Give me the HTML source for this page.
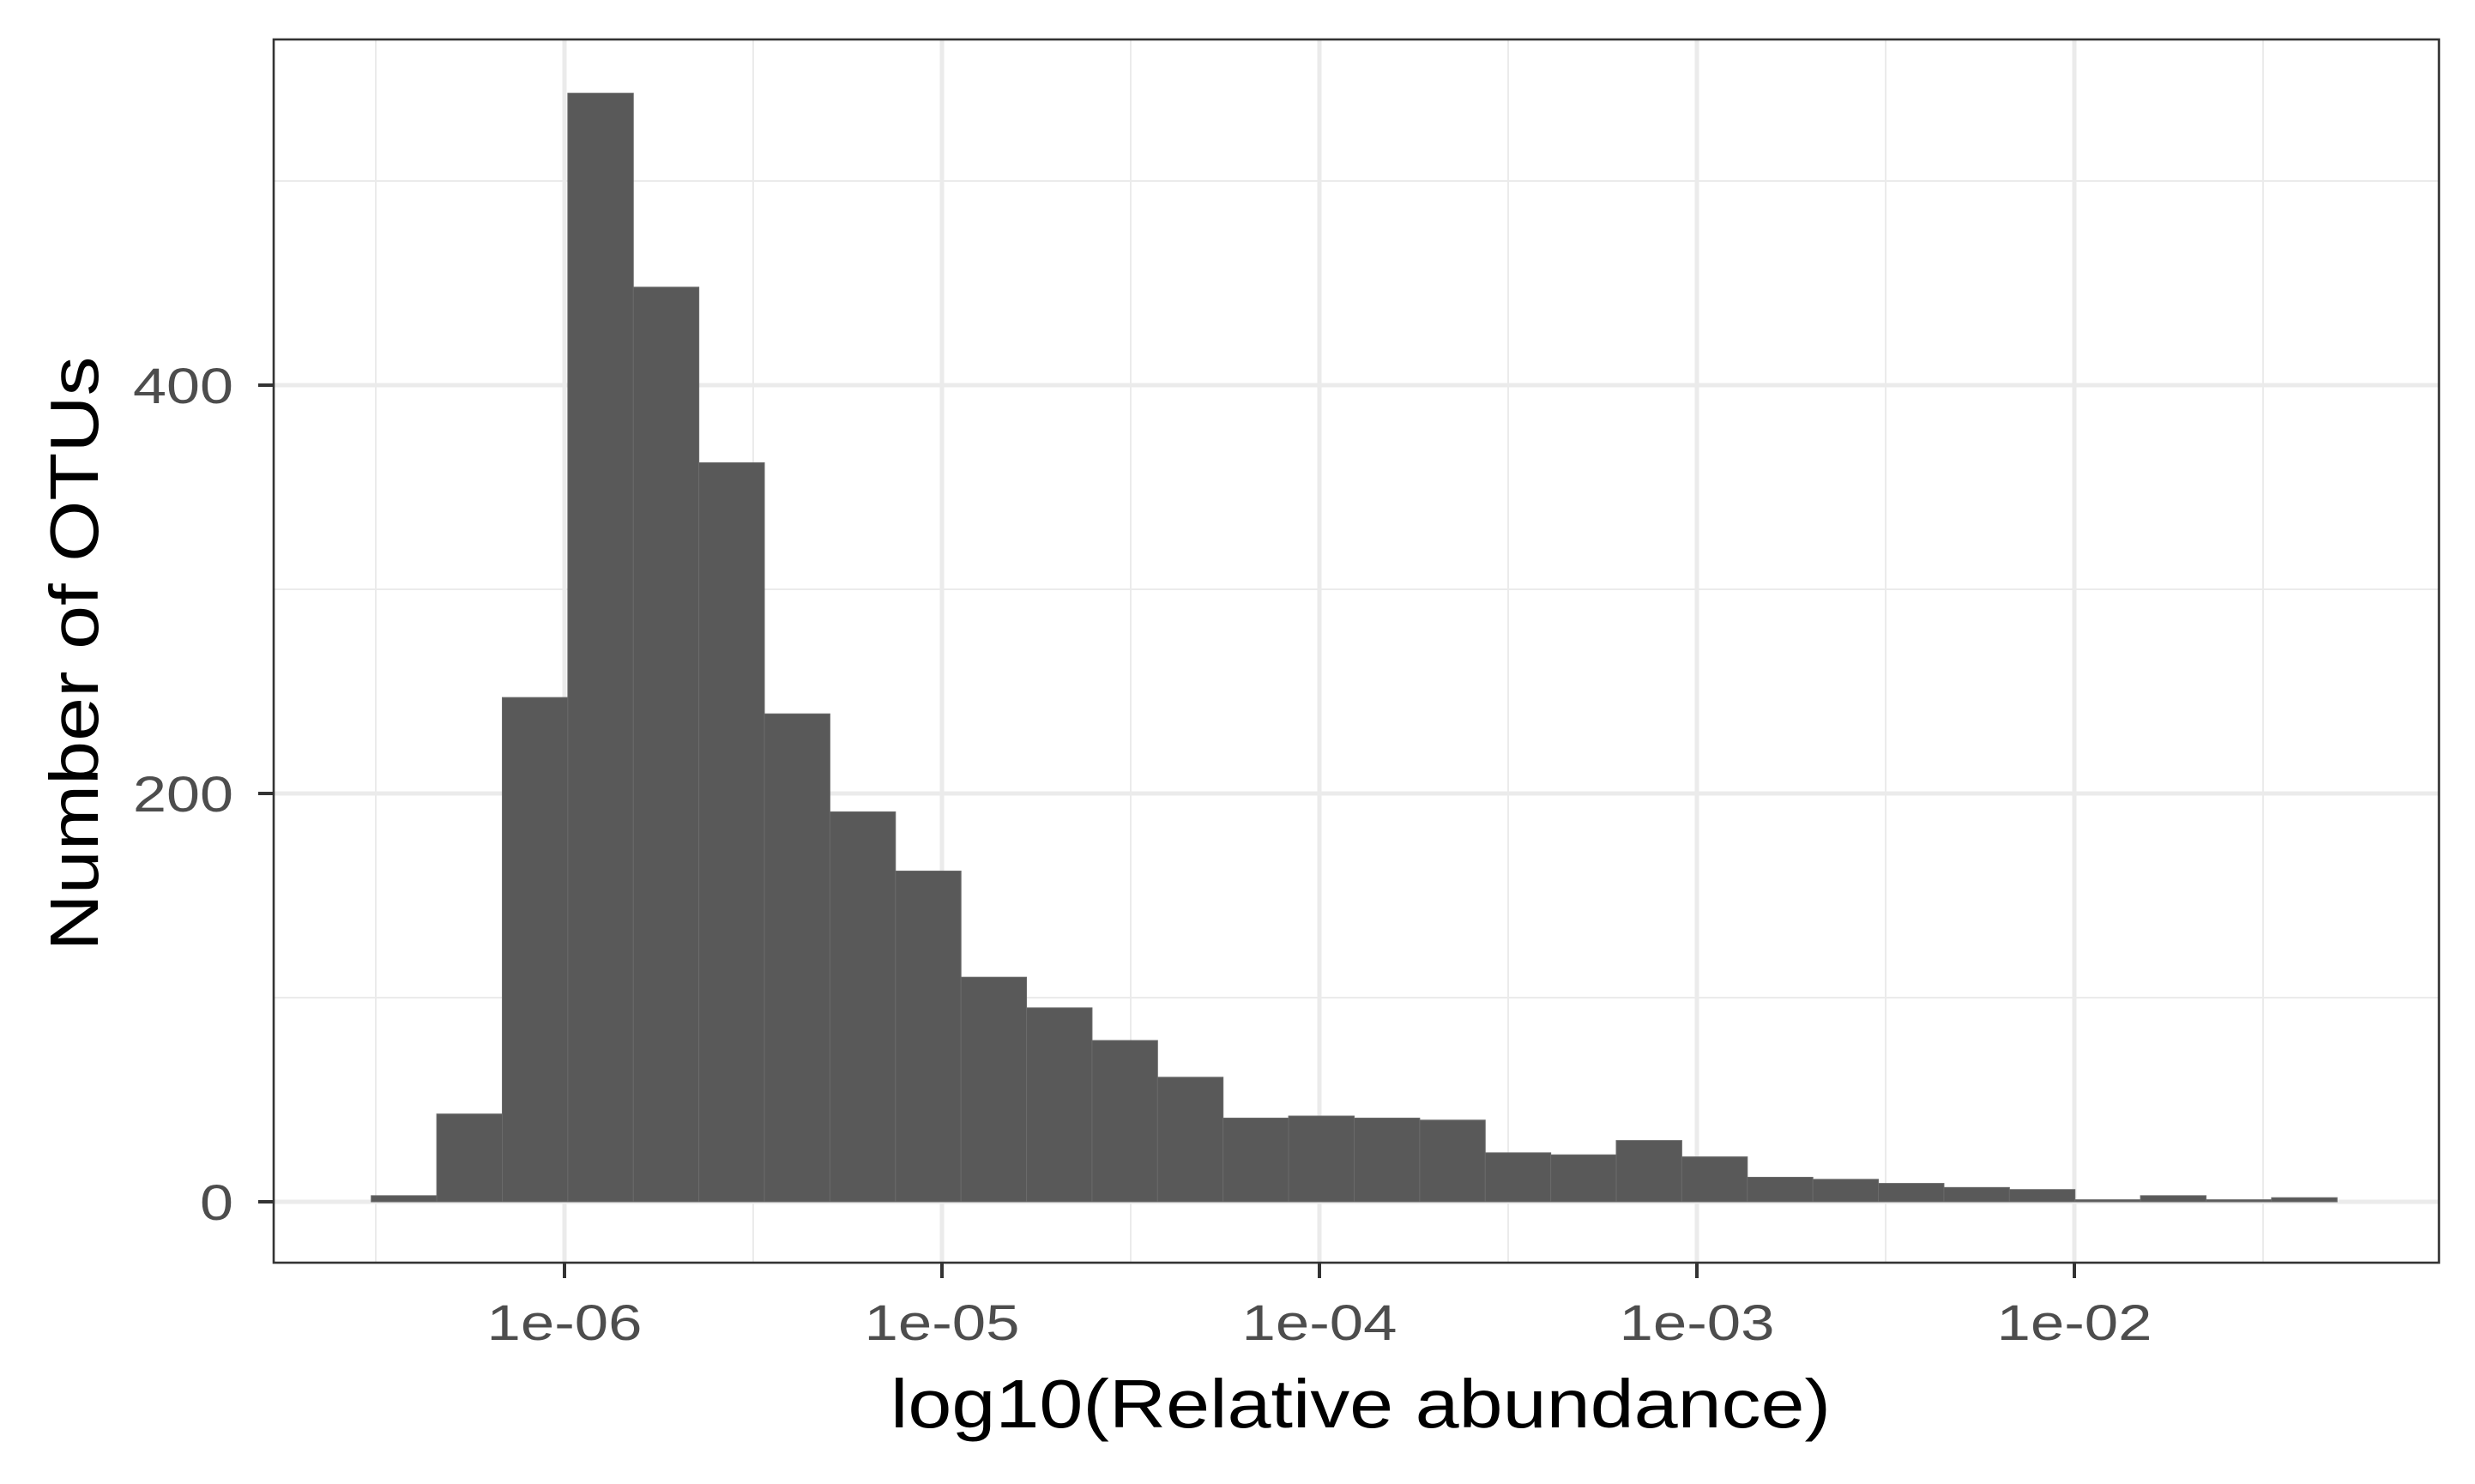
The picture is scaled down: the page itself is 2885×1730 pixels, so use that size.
<!DOCTYPE html>
<html><head><meta charset="utf-8"><style>
html,body{margin:0;padding:0;background:#fff;}
svg{display:block;font-family:"Liberation Sans",Arial,sans-serif;}
</style></head><body>
<svg id="chart" width="2885" height="1730" viewBox="0 0 2885 1730" xmlns="http://www.w3.org/2000/svg">
<rect x="0" y="0" width="2885" height="1730" fill="#fff"/>
<g id="grid"></g>
<g id="bars"></g>
<rect x="319" y="46" width="2524" height="1426" fill="none" stroke="#333" stroke-width="2.6"/>
<g id="axes"></g>
<text x="1586" y="1664" text-anchor="middle" font-size="80" textLength="1096" lengthAdjust="spacingAndGlyphs" fill="#000">log10(Relative abundance)</text>
<text x="0" y="0" transform="translate(114,762) rotate(-90)" text-anchor="middle" font-size="80" textLength="693" lengthAdjust="spacingAndGlyphs" fill="#000">Number of OTUs</text>
</svg>
<script>
const counts = [3,43,247,543,448,362,239,191,162,110,95,79,61,41,42,41,40,24,23,30,22,12,11,9,7,6,1,3,1,2];
const binStart = -6.512;
const binWidth = 0.1736;
const xTicks = [-6,-5,-4,-3,-2];
const xTickLabels = ["1e-06","1e-05","1e-04","1e-03","1e-02"];
const yTicks = [0,200,400];
const yTickLabels = ["0","200","400"];
const yMinor = [100,300,500];

const NS="http://www.w3.org/2000/svg";
const L=319,R=2843,T=46,B=1472;
function xs(v){return 658+(v+6)*440;}
function ys(v){return 1401-v*2.38;}
function mk(tag,attrs,parent){const e=document.createElementNS(NS,tag);for(const k in attrs)e.setAttribute(k,attrs[k]);parent.appendChild(e);return e;}
const grid=document.getElementById('grid'),bars=document.getElementById('bars'),axes=document.getElementById('axes');
yMinor.forEach(v=>{const l=mk('line',{x1:L,x2:R,y1:ys(v),y2:ys(v),stroke:'#ebebeb','stroke-width':2},grid);

});
for(let d=-6.5;d<=-1.5;d+=1){const l=mk('line',{x1:xs(d),x2:xs(d),y1:T,y2:B,stroke:'#ebebeb','stroke-width':2},grid);

}
yTicks.forEach((v,i)=>{const l=mk('line',{x1:L,x2:R,y1:ys(v),y2:ys(v),stroke:'#ebebeb','stroke-width':5},grid);


const t=mk('line',{x1:L-18,x2:L,y1:ys(v),y2:ys(v),stroke:'#333','stroke-width':4},axes);


const tx=mk('text',{x:272,y:ys(v)+21,'text-anchor':'end','font-size':58,fill:'#4d4d4d',textLength:String(yTickLabels[i].length*39),lengthAdjust:'spacingAndGlyphs'},axes);
tx.textContent=yTickLabels[i];

});
xTicks.forEach((v,i)=>{const l=mk('line',{x1:xs(v),x2:xs(v),y1:T,y2:B,stroke:'#ebebeb','stroke-width':5},grid);


const t=mk('line',{x1:xs(v),x2:xs(v),y1:B,y2:B+18,stroke:'#333','stroke-width':4},axes);


const tx=mk('text',{x:xs(v),y:1562,'text-anchor':'middle','font-size':58,fill:'#4d4d4d',textLength:'181',lengthAdjust:'spacingAndGlyphs'},axes);
tx.textContent=xTickLabels[i];

});
counts.forEach((c,i)=>{const x0=xs(binStart+i*binWidth),x1=xs(binStart+(i+1)*binWidth);
const r=mk('rect',{x:x0,y:ys(c),width:x1-x0,height:ys(0)-ys(c),fill:'#595959',stroke:'#6a6a6a','stroke-width':1},bars);

});
</script>
</body></html>
